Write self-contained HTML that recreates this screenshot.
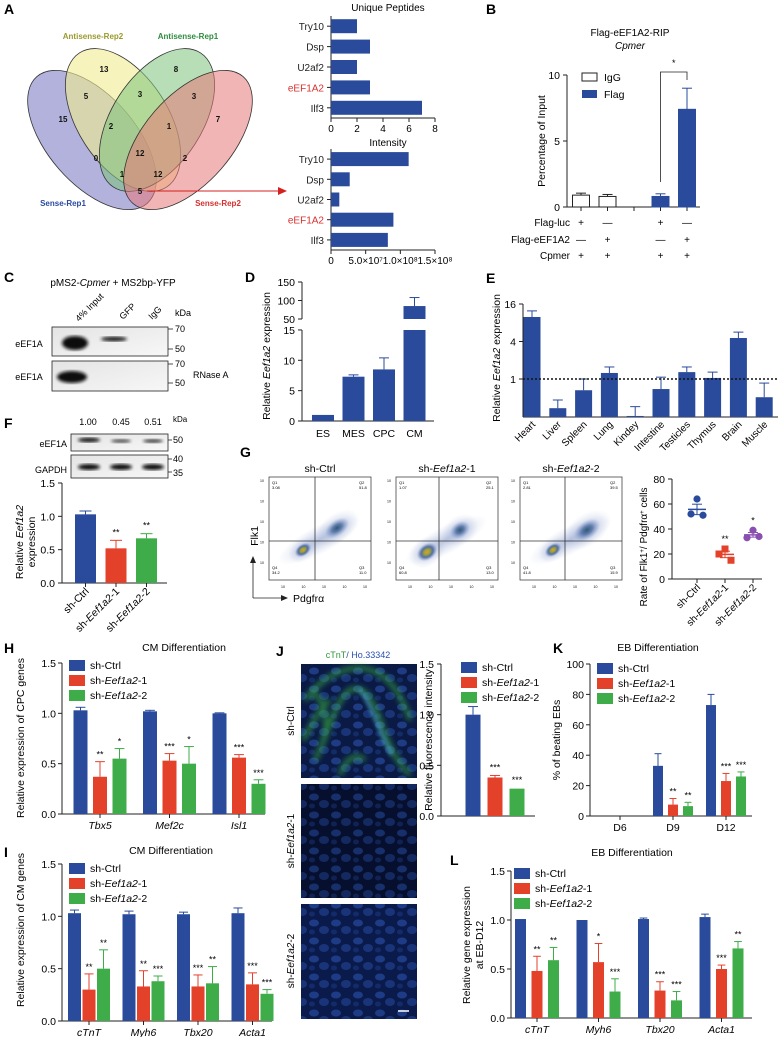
<!DOCTYPE html>
<html><head><meta charset="utf-8">
<style>
html,body{margin:0;padding:0;background:#fff;}
svg{display:block;font-family:"Liberation Sans",Arial,sans-serif;}
text{font-family:"Liberation Sans",Arial,sans-serif;}
</style></head>
<body>
<svg id="fig" width="779" height="1037" viewBox="0 0 779 1037" xmlns="http://www.w3.org/2000/svg">
<defs>
 <filter id="blur1"><feGaussianBlur stdDeviation="1.6"/></filter>
 <filter id="blur3"><feGaussianBlur stdDeviation="3"/></filter>
 <linearGradient id="blotbg" x1="0" y1="0" x2="1" y2="1"><stop offset="0" stop-color="#e4e4e4"/><stop offset="1" stop-color="#f7f7f7"/></linearGradient>
 <radialGradient id="clus"><stop offset="0" stop-color="#e0a020"/><stop offset="0.3" stop-color="#9aa040"/><stop offset="0.6" stop-color="#3a5a90" stop-opacity="0.8"/><stop offset="1" stop-color="#6a80c0" stop-opacity="0"/></radialGradient>
 <radialGradient id="clus2"><stop offset="0" stop-color="#2f5a70"/><stop offset="0.4" stop-color="#4a6aa0" stop-opacity="0.8"/><stop offset="1" stop-color="#8aa0d0" stop-opacity="0"/></radialGradient>
 <radialGradient id="halo"><stop offset="0" stop-color="#7088c0" stop-opacity="0.5"/><stop offset="1" stop-color="#a0b0d8" stop-opacity="0"/></radialGradient>
 <pattern id="cells" width="22" height="18" patternUnits="userSpaceOnUse">
  <ellipse cx="6" cy="5" rx="5" ry="3.5" fill="#2d55b5" opacity="0.55"/>
  <ellipse cx="16" cy="12" rx="5" ry="4" fill="#2448a0" opacity="0.55"/>
  <ellipse cx="4" cy="14" rx="3" ry="2.5" fill="#1c3c8a" opacity="0.5"/>
 </pattern>
</defs>

<g font-weight="bold" font-size="14">
 <text x="4" y="14">A</text>
 <text x="486" y="14">B</text>
 <text x="4" y="282">C</text>
 <text x="245" y="282">D</text>
 <text x="486" y="283">E</text>
 <text x="4" y="428">F</text>
 <text x="240" y="457">G</text>
 <text x="4" y="653">H</text>
 <text x="276" y="656">J</text>
 <text x="553" y="653">K</text>
 <text x="4" y="857">I</text>
 <text x="450" y="865">L</text>
</g>

<g id="venn" stroke="#333" stroke-width="0.8">
 <ellipse cx="92" cy="140" rx="84" ry="44" transform="rotate(49 92 140)" fill="#7e7ec6" fill-opacity="0.6"/>
 <ellipse cx="123" cy="120" rx="80" ry="45" transform="rotate(57 123 120)" fill="#f0ec90" fill-opacity="0.6"/>
 <ellipse cx="157" cy="120" rx="80" ry="45" transform="rotate(-57 157 120)" fill="#7cc27c" fill-opacity="0.55"/>
 <ellipse cx="188" cy="140" rx="84" ry="44" transform="rotate(-49 188 140)" fill="#e87878" fill-opacity="0.55"/>
</g>
<g font-size="8" font-weight="bold" text-anchor="middle" fill="#111">
 <text x="104" y="72">13</text><text x="176" y="72">8</text>
 <text x="86" y="99">5</text><text x="140" y="97">3</text><text x="194" y="99">3</text>
 <text x="63" y="122">15</text><text x="111" y="129">2</text><text x="169" y="129">1</text><text x="218" y="122">7</text>
 <text x="96" y="161">0</text><text x="140" y="156">12</text><text x="185" y="161">2</text>
 <text x="122" y="177">1</text><text x="158" y="177">12</text><text x="140" y="194">5</text>
</g>
<g font-size="8" font-weight="bold" text-anchor="middle">
 <text x="93" y="39" fill="#9a9a2c">Antisense-Rep2</text>
 <text x="188" y="39" fill="#2e8b3e">Antisense-Rep1</text>
 <text x="63" y="206" fill="#2a4aa0">Sense-Rep1</text>
 <text x="218" y="206" fill="#d63030">Sense-Rep2</text>
</g>
<g>
 <line x1="147" y1="191" x2="280" y2="191" stroke="#d62020" stroke-width="1"/>
 <polygon points="287,191 278,187 278,195" fill="#d62020"/>
</g>

<g>
 <text x="113" y="286" font-size="10" text-anchor="middle">pMS2-<tspan font-style="italic">Cpmer</tspan> + MS2bp-YFP</text>
 <text transform="translate(79,322) rotate(-45)" font-size="9">4% Input</text>
 <text transform="translate(123,320) rotate(-45)" font-size="9">GFP</text>
 <text transform="translate(152,320) rotate(-45)" font-size="9">IgG</text>
 <text x="175" y="316" font-size="9">kDa</text>
 <rect x="52" y="327" width="116" height="29" fill="url(#blotbg)" stroke="#222" stroke-width="0.8"/>
 <rect x="52" y="361" width="116" height="30" fill="url(#blotbg)" stroke="#222" stroke-width="0.8"/>
 <ellipse cx="75" cy="343" rx="13" ry="7" fill="#111" filter="url(#blur1)"/>
 <ellipse cx="114" cy="339" rx="13" ry="2.5" fill="#222" filter="url(#blur1)"/>
 <ellipse cx="72" cy="377" rx="15" ry="6" fill="#111" filter="url(#blur1)"/>
 <text x="29" y="347" font-size="9" text-anchor="middle">eEF1A</text>
 <text x="29" y="380" font-size="9" text-anchor="middle">eEF1A</text>
 <g stroke="#222" stroke-width="0.8">
  <line x1="168" y1="329" x2="173" y2="329"/><line x1="168" y1="349" x2="173" y2="349"/>
  <line x1="168" y1="364" x2="173" y2="364"/><line x1="168" y1="383" x2="173" y2="383"/>
 </g>
 <g font-size="9"><text x="175" y="332">70</text><text x="175" y="352">50</text><text x="175" y="367">70</text><text x="175" y="386">50</text><text x="193" y="378">RNase A</text></g>
</g>

<g font-size="9">
 <text x="88" y="425" text-anchor="middle">1.00</text><text x="121" y="425" text-anchor="middle">0.45</text><text x="153" y="425" text-anchor="middle">0.51</text>
 <text x="173" y="422" font-size="8">kDa</text>
 <rect x="71" y="434" width="97" height="17" fill="url(#blotbg)" stroke="#222" stroke-width="0.8"/>
 <rect x="71" y="455" width="97" height="23" fill="url(#blotbg)" stroke="#222" stroke-width="0.8"/>
 <ellipse cx="89" cy="440" rx="11" ry="2.5" fill="#222" filter="url(#blur1)"/>
 <ellipse cx="121" cy="441" rx="10" ry="2" fill="#555" filter="url(#blur1)"/>
 <ellipse cx="153" cy="441" rx="10" ry="2" fill="#444" filter="url(#blur1)"/>
 <ellipse cx="89" cy="467" rx="11" ry="3" fill="#111" filter="url(#blur1)"/>
 <ellipse cx="121" cy="467" rx="11" ry="3" fill="#111" filter="url(#blur1)"/>
 <ellipse cx="153" cy="467" rx="11" ry="3" fill="#111" filter="url(#blur1)"/>
 <text x="67" y="447" text-anchor="end">eEF1A</text><text x="67" y="473" text-anchor="end">GAPDH</text>
 <g stroke="#222" stroke-width="0.8"><line x1="168" y1="440" x2="172" y2="440"/><line x1="168" y1="459" x2="172" y2="459"/><line x1="168" y1="472" x2="172" y2="472"/></g>
 <text x="173" y="443">50</text><text x="173" y="462">40</text><text x="173" y="476">35</text>
</g>

<g>
 <text x="358" y="658" font-size="9" text-anchor="middle"><tspan fill="#2e9a3a">cTnT</tspan><tspan fill="#2a4fb0">/ Ho.33342</tspan></text>
 <rect x="301" y="664" width="116" height="114" fill="#0b1a45"/>
 <rect x="301" y="664" width="116" height="114" fill="url(#cells)"/>
 <g stroke="#3ec43e" fill="none" stroke-width="5" opacity="0.55" filter="url(#blur3)">
  <path d="M305 700 C320 680 340 668 360 668 C385 670 400 690 410 720"/>
  <path d="M315 760 C330 730 335 700 350 690 C365 684 372 700 380 720 C386 740 395 760 410 775"/>
  <path d="M303 740 C315 720 318 710 330 700"/>
  <path d="M340 775 C345 760 355 752 365 760"/>
  <path d="M310 690 C325 700 330 720 322 745"/>
 </g>
 <g stroke="#56b8e8" fill="none" stroke-width="5" opacity="0.4" filter="url(#blur1)"><path d="M360 690 C372 705 378 730 392 755"/></g>
 <rect x="301" y="784" width="116" height="114" fill="#06102e"/>
 <rect x="301" y="784" width="116" height="114" fill="url(#cells)" opacity="0.8"/>
 <rect x="301" y="904" width="116" height="115" fill="#0a1a4a"/>
 <rect x="301" y="904" width="116" height="115" fill="url(#cells)"/>
 <line x1="398" y1="1011" x2="409" y2="1011" stroke="#fff" stroke-width="1.5"/>
 <text transform="translate(294,721) rotate(-90)" font-size="10" text-anchor="middle">sh-Ctrl</text>
 <text transform="translate(294,841) rotate(-90)" font-size="10" text-anchor="middle">sh-<tspan font-style="italic">Eef1a2</tspan>-1</text>
 <text transform="translate(294,961) rotate(-90)" font-size="10" text-anchor="middle">sh-<tspan font-style="italic">Eef1a2</tspan>-2</text>
</g>

<g id="charts"></g>

<script>
const aCats = ["Try10","Dsp","U2af2","eEF1A2","Ilf3"];
const aPeptides = [2,3,2,3,7];
const aIntensity = [1.12e8,0.27e8,0.12e8,0.9e8,0.82e8];

const bLabels = ["IgG","IgG","Flag","Flag"];
const bVals = [0.9,0.8,0.8,7.4];
const bErr = [0.15,0.15,0.2,1.6];
const bRowLuc = ["+","\u2014","+","\u2014"];
const bRowEef = ["\u2014","+","\u2014","+"];
const bRowCpmer = ["+","+","+","+"];

const dCats = ["ES","MES","CPC","CM"];
const dVals = [1.0,7.3,8.5,85];
const dErr = [0,0.3,1.9,23];

const eCats = ["Heart","Liver","Spleen","Lung","Kindey","Intestine","Testicles","Thymus","Brain","Muscle"];
const eVals = [9.9,0.34,0.66,1.25,0.255,0.69,1.29,1.04,4.55,0.51];
const eErrTop = [12.4,0.46,1.0,1.56,0.36,1.07,1.56,1.29,5.66,0.86];
const eTicks = [1,4,16];

const fCats = ["sh-Ctrl","sh-Eef1a2-1","sh-Eef1a2-2"];
const fVals = [1.03,0.52,0.67];
const fErr = [0.05,0.12,0.07];
const fStars = ["","**","**"];

const gCats = ["sh-Ctrl","sh-Eef1a2-1","sh-Eef1a2-2"];
const gPoints = [[64,52,51],[24,20,15],[39,33,34]];
const gStars = ["","**","*"];
const gQuadCtrl = ["3.08","51.8","11.0","34.2"];
const gQuadSh1 = ["1.07","25.1","13.0","60.8"];
const gQuadSh2 = ["2.81","39.5","15.9","41.8"];

const hCats = ["Tbx5","Mef2c","Isl1"];
const hCtrl = [1.03,1.02,1.0];
const hCtrlErr = [0.03,0.01,0.005];
const hSh1 = [0.37,0.53,0.56];
const hSh1Err = [0.15,0.07,0.03];
const hSh2 = [0.55,0.50,0.30];
const hSh2Err = [0.10,0.17,0.04];
const hStars1 = ["**","***","***"];
const hStars2 = ["*","*","***"];

const iCats = ["cTnT","Myh6","Tbx20","Acta1"];
const iCtrl = [1.03,1.02,1.02,1.03];
const iCtrlErr = [0.03,0.03,0.02,0.05];
const iSh1 = [0.30,0.33,0.33,0.35];
const iSh1Err = [0.15,0.15,0.11,0.11];
const iSh2 = [0.50,0.38,0.36,0.26];
const iSh2Err = [0.18,0.05,0.16,0.04];
const iStars1 = ["**","**","***","***"];
const iStars2 = ["**","***","**","***"];

const jCats = ["sh-Ctrl","sh-Eef1a2-1","sh-Eef1a2-2"];
const jVals = [1.0,0.38,0.27];
const jErr = [0.08,0.02,0.005];
const jStars = ["","***","***"];

const kCats = ["D6","D9","D12"];
const kCtrl = [0,33,73];
const kCtrlErr = [0,8,7];
const kSh1 = [0,7.5,23];
const kSh1Err = [0,4,5];
const kSh2 = [0,6.5,26];
const kSh2Err = [0,2.5,3];
const kStars1 = ["","**","***"];
const kStars2 = ["","**","***"];

const lCats = ["cTnT","Myh6","Tbx20","Acta1"];
const lCtrl = [1.01,1.0,1.01,1.03];
const lCtrlErr = [0.0,0.0,0.01,0.03];
const lSh1 = [0.48,0.57,0.28,0.50];
const lSh1Err = [0.15,0.19,0.09,0.04];
const lSh2 = [0.59,0.27,0.18,0.71];
const lSh2Err = [0.13,0.13,0.09,0.07];
const lStars1 = ["**","*","***","***"];
const lStars2 = ["**","***","***","**"];

const NS = "http://www.w3.org/2000/svg";
const root = document.getElementById("charts");
const BLUE = "#2a4b9c", RED = "#e4412b", GREEN = "#3eac48";
function mk(tag, attrs, name, parent) {
  const e = document.createElementNS(NS, tag);
  for (const k in attrs) e.setAttribute(k, attrs[k]);
  
  
  (parent || root).appendChild(e);
  return e;
}
function T(x, y, s, size, name, parent, extra) {
  const a = {x: x, y: y, "font-size": size};
  if (extra) for (const k in extra) a[k] = extra[k];
  const t = mk("text", a, name, parent);
  t.textContent = s;
  return t;
}
// parts: array of [string, style] where style "i" italic, "sup" superscript
function rich(t, parts) {
  t.textContent = "";
  parts.forEach(p => {
    if (!p[1]) { t.appendChild(document.createTextNode(p[0])); return; }
    const ts = document.createElementNS(NS, "tspan");
    if (p[1] === "i") ts.setAttribute("font-style", "italic");
    if (p[1] === "sup") { ts.setAttribute("baseline-shift", "super"); ts.setAttribute("font-size", "6"); }
    ts.textContent = p[0];
    t.appendChild(ts);
  });
  return t;
}
function shLabel(x, y, s, size, name, parent, extra) {
  const t = T(x, y, "", size, name, parent, extra);
  const m = s.match(/^(sh-)(Eef1a2)(-\d)$/);
  if (m) rich(t, [[m[1]], [m[2], "i"], [m[3]]]);
  else t.textContent = s;
  return t;
}
function line(x1, y1, x2, y2, name, parent, col, w) {
  return mk("line", {x1: x1, y1: y1, x2: x2, y2: y2, stroke: col || "#222", "stroke-width": w || 1}, name, parent);
}
function rotLabel(x, y, s, size, name, parent) {
  return shLabel(0, 0, s, size, name, parent, {"text-anchor": "middle", transform: "translate(" + x + "," + y + ") rotate(-90)"});
}
function legend(x, y, step, parent, prefix) {
  const items = [["sh-Ctrl", BLUE], ["sh-Eef1a2-1", RED], ["sh-Eef1a2-2", GREEN]];
  items.forEach((it, i) => {
    const g = mk("g", {}, prefix + "-legend-entry-" + i, parent);
    mk("rect", {x: x, y: y + i * step - 5, width: 16, height: 11, fill: it[1]}, prefix + "-legend-swatch", g);
    shLabel(x + 21, y + i * step + 4, it[0], 10.5, prefix + "-legend-label", g);
  });
}
function errBar(x, yTop, yBase, half, col, name, parent) {
  line(x, yBase, x, yTop, name, parent, col, 1);
  line(x - half, yTop, x + half, yTop, name + "-cap", parent, col, 1);
}
function grouped(o) {
  const g = mk("g", {}, o.name, root);
  const y = v => o.yBot - v / o.vmax * (o.yBot - o.yTop);
  line(o.xa, o.yTop, o.xa, o.yBot, o.name + "-y-axis", g);
  line(o.xa, o.yBot, o.xr, o.yBot, o.name + "-x-axis", g);
  o.ticks.forEach(t => {
    line(o.xa - 4, y(t), o.xa, y(t), o.name + "-y-tick", g);
    T(o.xa - 6, y(t) + 4, o.fmt(t), 10.5, o.name + "-y-tick-label", g, {"text-anchor": "end"});
  });
  const cols = [BLUE, RED, GREEN];
  o.cats.forEach((c, i) => {
    const cx = o.cx0 + i * o.cstep;
    line(cx, o.yBot, cx, o.yBot + 4, o.name + "-x-tick", g);
    T(cx, o.yBot + 15, c, 10.5, o.name + "-x-label", g, {"text-anchor": "middle", "font-style": o.italic ? "italic" : "normal"});
    o.series.forEach((s, j) => {
      const bx = cx + (j - 1) * o.gap;
      const v = s.v[i], e = s.e[i];
      if (v > 0) {
        mk("rect", {x: bx - o.bw / 2, y: y(v), width: o.bw, height: o.yBot - y(v), fill: cols[j]}, o.name + "-bar-" + c + "-" + j, g);
        if (e > 0) errBar(bx, y(v + e), y(v), o.bw * 0.35, cols[j], o.name + "-error", g);
      }
      if (s.st && s.st[i]) T(bx, y(v + e) - 4, s.st[i], 9, o.name + "-significance", g, {"text-anchor": "middle"});
    });
  });
  return g;
}

// A
(function () {
  function hbar(name, title, ty, yTop, yBot, vals, vmax, ticks, tickLabels) {
    const g = mk("g", {}, name, root);
    const x = v => 331 + v / vmax * 104;
    T(388, ty, title, 10, name + "-title", g, {"text-anchor": "middle"});
    line(331, yTop, 331, yBot, name + "-y-axis", g);
    line(331, yBot, 435, yBot, name + "-x-axis", g);
    const step = (yBot - yTop) / aCats.length;
    aCats.forEach((c, i) => {
      const cy = yTop + step * (i + 0.5);
      mk("rect", {x: 331, y: cy - 7, width: x(vals[i]) - 331, height: 14, fill: BLUE}, name + "-bar-" + c, g);
      line(327, cy, 331, cy, name + "-tick", g);
      T(324, cy + 4, c, 10, name + "-category-label", g, {"text-anchor": "end", fill: c === "eEF1A2" ? "#d83030" : "#222"});
    });
    ticks.forEach((t, k) => {
      line(x(t), yBot, x(t), yBot + 4, name + "-x-tick", g);
      T(x(t), yBot + 14, tickLabels[k], 10, name + "-x-tick-label", g, {"text-anchor": "middle"});
    });
  }
  hbar("a-unique-peptides", "Unique Peptides", 11, 16, 118, aPeptides, 8, [0, 2, 4, 6, 8], ["0", "2", "4", "6", "8"]);
  hbar("a-intensity", "Intensity", 146, 149, 250, aIntensity, 1.5e8, [0, 0.5e8, 1e8, 1.5e8], ["0", "5.0\u00d710\u2077", "1.0\u00d710\u2078", "1.5\u00d710\u2078"]);
})();

// B
(function () {
  const g = mk("g", {}, "panel-b-chart", root);
  const y = v => 207 - v * 13.2;
  const slot = [0, 1, 3, 4];
  const xs = i => 581 + slot[i] * 26.5;
  T(630, 36, "Flag-eEF1A2-RIP", 10, "b-title", g, {"text-anchor": "middle"});
  T(630, 49, "Cpmer", 10, "b-subtitle", g, {"text-anchor": "middle", "font-style": "italic"});
  line(567, 75, 567, 207, "b-y-axis", g);
  line(567, 207, 700, 207, "b-x-axis", g);
  [0, 5, 10].forEach(t => {
    line(563, y(t), 567, y(t), "b-y-tick", g);
    T(560, y(t) + 4, String(t), 10.5, "b-y-tick-label", g, {"text-anchor": "end"});
  });
  rotLabel(545, 141, "Percentage of Input", 10.5, "b-y-axis-title", g);
  [0, 1, 2, 3, 4].forEach(s => line(581 + s * 26.5, 207, 581 + s * 26.5, 211, "b-x-tick", g));
  bVals.forEach((v, i) => {
    const filled = bLabels[i] === "Flag";
    mk("rect", {x: xs(i) - 8.5, y: y(v), width: 17, height: 207 - y(v), fill: filled ? BLUE : "#fff", stroke: filled ? BLUE : "#222", "stroke-width": 1}, "b-bar-" + bLabels[i] + "-" + i, g);
    errBar(xs(i), y(v + bErr[i]), y(v), 5, filled ? BLUE : "#222", "b-error", g);
    T(xs(i), 226, bRowLuc[i], 10, "b-flag-luc-mark", g, {"text-anchor": "middle"});
    T(xs(i), 243, bRowEef[i], 10, "b-flag-eef1a2-mark", g, {"text-anchor": "middle"});
    T(xs(i), 259, bRowCpmer[i], 10, "b-cpmer-mark", g, {"text-anchor": "middle"});
  });
  T(570, 226, "Flag-luc", 10, "b-row-flag-luc", g, {"text-anchor": "end"});
  T(570, 243, "Flag-eEF1A2", 10, "b-row-flag-eef1a2", g, {"text-anchor": "end"});
  T(570, 259, "Cpmer", 10, "b-row-cpmer", g, {"text-anchor": "end"});
  mk("rect", {x: 582, y: 73, width: 15, height: 8, fill: "#fff", stroke: "#222"}, "b-legend-igg-swatch", g);
  T(604, 81, "IgG", 10.5, "b-legend-igg", g);
  mk("rect", {x: 582, y: 90, width: 15, height: 8, fill: BLUE}, "b-legend-flag-swatch", g);
  T(604, 98, "Flag", 10.5, "b-legend-flag", g);
  const bx1 = xs(2), bx2 = xs(3);
  mk("polyline", {points: bx1 + ",182 " + bx1 + ",72 " + bx2 + ",72 " + bx2 + ",80", fill: "none", stroke: "#222", "stroke-width": 0.8}, "b-significance-bracket", g);
  T((bx1 + bx2) / 2, 66, "*", 9, "b-significance", g, {"text-anchor": "middle"});
})();

// D
(function () {
  const g = mk("g", {}, "panel-d-chart", root);
  const yl = v => 421 - v * 6.07;
  const yu = v => 319 - (v - 50) * 0.37;
  line(302, 330, 302, 421, "d-y-axis-lower", g);
  line(302, 282, 302, 319, "d-y-axis-upper", g);
  line(302, 421, 434, 421, "d-x-axis", g);
  [0, 5, 10, 15].forEach(t => {
    line(298, yl(t), 302, yl(t), "d-y-tick", g);
    T(295, yl(t) + 4, String(t), 10.5, "d-y-tick-label", g, {"text-anchor": "end"});
  });
  [50, 100, 150].forEach(t => {
    line(298, yu(t), 302, yu(t), "d-y-tick", g);
    T(295, yu(t) + 4, String(t), 10.5, "d-y-tick-label", g, {"text-anchor": "end"});
  });
  rich(rotLabel(270, 356, "", 10.5, "d-y-axis-title", g), [["Relative "], ["Eef1a2", "i"], [" expression"]]);
  dCats.forEach((c, i) => {
    const cx = 323 + i * 30.5;
    T(cx, 437, c, 10.5, "d-x-label", g, {"text-anchor": "middle"});
    const v = dVals[i];
    if (v <= 15) {
      mk("rect", {x: cx - 11, y: yl(v), width: 22, height: 421 - yl(v), fill: BLUE}, "d-bar-" + c, g);
      if (dErr[i] > 0) errBar(cx, yl(v + dErr[i]), yl(v), 5, BLUE, "d-error", g);
    } else {
      mk("rect", {x: cx - 11, y: 330, width: 22, height: 91, fill: BLUE}, "d-bar-" + c + "-lower", g);
      mk("rect", {x: cx - 11, y: yu(v), width: 22, height: 319 - yu(v), fill: BLUE}, "d-bar-" + c + "-upper", g);
      errBar(cx, yu(v + dErr[i]), yu(v), 5, BLUE, "d-error", g);
    }
  });
})();

// E
(function () {
  const g = mk("g", {}, "panel-e-chart", root);
  const y = v => 379 - Math.log2(v) * 18.75;
  line(523, 304, 523, 417, "e-y-axis", g);
  line(523, 417, 778, 417, "e-x-axis", g);
  eTicks.forEach(t => {
    line(519, y(t), 523, y(t), "e-y-tick", g);
    T(516, y(t) + 4, String(t), 10.5, "e-y-tick-label", g, {"text-anchor": "end"});
  });
  rich(rotLabel(500, 358, "", 10.5, "e-y-axis-title", g), [["Relative "], ["Eef1a2", "i"], [" expression"]]);
  eCats.forEach((c, i) => {
    const cx = 532 + i * 25.8;
    mk("rect", {x: cx - 8.5, y: y(eVals[i]), width: 17, height: 417 - y(eVals[i]), fill: BLUE}, "e-bar-" + c, g);
    errBar(cx, y(eErrTop[i]), y(eVals[i]), 5, BLUE, "e-error", g);
    T(cx + 4, 425, c, 10, "e-x-label", g, {"text-anchor": "end", transform: "rotate(-45 " + (cx + 4) + " 425)"});
  });
  line(523, y(1), 778, y(1), "e-reference-line", g, "#111", 1.5).setAttribute("stroke-dasharray", "2,2");
})();

// F bar
(function () {
  const g = mk("g", {}, "panel-f-chart", root);
  const y = v => 583 - v / 1.5 * 100;
  line(62, 483, 62, 583, "f-y-axis", g);
  line(62, 583, 167, 583, "f-x-axis", g);
  [0, 0.5, 1.0, 1.5].forEach(t => {
    line(58, y(t), 62, y(t), "f-y-tick", g);
    T(55, y(t) + 4, t.toFixed(1), 10.5, "f-y-tick-label", g, {"text-anchor": "end"});
  });
  rich(rotLabel(23, 542, "", 10.5, "f-y-axis-title", g), [["Relative "], ["Eef1a2", "i"]]);
  rotLabel(35, 542, "expression", 10.5, "f-y-axis-title-2", g);
  const cols = [BLUE, RED, GREEN];
  fCats.forEach((c, i) => {
    const cx = 85.5 + i * 30.5;
    mk("rect", {x: cx - 10.5, y: y(fVals[i]), width: 21, height: 583 - y(fVals[i]), fill: cols[i]}, "f-bar-" + c, g);
    errBar(cx, y(fVals[i] + fErr[i]), y(fVals[i]), 6, cols[i], "f-error", g);
    if (fStars[i]) T(cx, y(fVals[i] + fErr[i]) - 5, fStars[i], 9, "f-significance", g, {"text-anchor": "middle"});
    line(cx, 583, cx, 587, "f-x-tick", g);
    shLabel(cx + 4, 592, c, 10.5, "f-x-label", g, {"text-anchor": "end", transform: "rotate(-45 " + (cx + 4) + " 592)"});
  });
})();

// G flow plots
(function () {
  const plots = [["sh-Ctrl", 269, 315, gQuadCtrl, [[34, 73, 9, 6], [68, 51, 14, 8]]],
                 ["sh-Eef1a2-1", 396, 439, gQuadSh1, [[31, 75, 11, 8], [64, 53, 11, 8]]],
                 ["sh-Eef1a2-2", 520, 565, gQuadSh2, [[33, 73, 9, 6], [67, 53, 15, 9]]]];
  plots.forEach((p, k) => {
    const g = mk("g", {}, "g-flow-plot-" + k, root);
    const x0 = p[1], w = 102;
    shLabel(x0 + w / 2, 472, p[0], 10.5, "g-flow-title", g, {"text-anchor": "middle"});
    mk("rect", {x: x0, y: 477, width: w, height: 103, fill: "#fff", stroke: "#444", "stroke-width": 0.8}, "g-flow-frame", g);
    mk("ellipse", {cx: x0 + 50, cy: 540, rx: 46, ry: 14, fill: "url(#halo)", transform: "rotate(-28 " + (x0 + 50) + " 540)"}, "g-flow-halo", g);
    p[4].forEach((c, j) => {
      const cx = x0 + c[0], cy = 477 + c[1];
      mk("ellipse", {cx: cx, cy: cy, rx: c[2] * 1.8, ry: c[3] * 1.8, fill: "url(#halo)", transform: "rotate(-35 " + cx + " " + cy + ")"}, "g-flow-halo", g);
      mk("ellipse", {cx: cx, cy: cy, rx: c[2], ry: c[3], fill: j === 0 ? "url(#clus)" : "url(#clus2)", transform: "rotate(-35 " + cx + " " + cy + ")"}, "g-flow-cluster", g);
    });
    line(p[2], 477, p[2], 580, "g-gate-vertical", g, "#333", 0.8);
    line(x0, 541, x0 + w, 541, "g-gate-horizontal", g, "#333", 0.8);
    T(x0 + 3, 484, "Q1", 4, "g-q1", g); T(x0 + 3, 489, p[3][0], 4, "g-q1-value", g);
    T(x0 + w - 12, 484, "Q2", 4, "g-q2", g); T(x0 + w - 12, 489, p[3][1], 4, "g-q2-value", g);
    T(x0 + w - 12, 569, "Q3", 4, "g-q3", g); T(x0 + w - 12, 574, p[3][2], 4, "g-q3-value", g);
    T(x0 + 3, 569, "Q4", 4, "g-q4", g); T(x0 + 3, 574, p[3][3], 4, "g-q4-value", g);
    for (let t = 0; t < 5; t++) {
      T(x0 - 9, 482 + t * 20.5, "10", 3.5, "g-y-tick-label", g);
      T(x0 + 12 + t * 20.5, 588, "10", 3.5, "g-x-tick-label", g);
    }
  });
  const a = mk("g", {}, "g-axis-arrows", root);
  line(253, 598, 253, 562, "g-flk1-arrow", a, "#222", 0.8);
  mk("polygon", {points: "253,556 250,563 256,563", fill: "#222"}, "g-flk1-arrowhead", a);
  line(253, 598, 282, 598, "g-pdgfra-arrow", a, "#222", 0.8);
  mk("polygon", {points: "288,598 281,595 281,601", fill: "#222"}, "g-pdgfra-arrowhead", a);
  rotLabel(258, 536, "Flk1", 10.5, "g-flk1-label", a);
  T(293, 602, "Pdgfr\u03b1", 10.5, "g-pdgfra-label", a);
})();

// G dot plot
(function () {
  const g = mk("g", {}, "panel-g-dotplot", root);
  const y = v => 579 - v * 1.25;
  line(672, 479, 672, 579, "g-dot-y-axis", g);
  line(672, 579, 762, 579, "g-dot-x-axis", g);
  [0, 20, 40, 60, 80].forEach(t => {
    line(668, y(t), 672, y(t), "g-dot-y-tick", g);
    T(665, y(t) + 4, String(t), 10.5, "g-dot-y-tick-label", g, {"text-anchor": "end"});
  });
  rich(rotLabel(647, 547, "", 10, "g-dot-y-axis-title", g), [["Rate of Flk1"], ["+", "sup"], ["/ Pdgfr\u03b1"], ["+", "sup"], [" cells"]]);
  const cols = [BLUE, RED, "#8a4fb0"];
  const offs = [0, -6, 6];
  gCats.forEach((c, i) => {
    const cx = 697 + i * 28;
    const pts = gPoints[i];
    const m = pts.reduce((s, v) => s + v, 0) / pts.length;
    const sd = Math.sqrt(pts.reduce((s, v) => s + (v - m) * (v - m), 0) / (pts.length - 1));
    const se = sd / Math.sqrt(pts.length);
    pts.forEach((v, j) => {
      if (i === 1) mk("rect", {x: cx + offs[j] - 3.5, y: y(v) - 3.5, width: 7, height: 7, fill: cols[i]}, "g-dot-point", g);
      else mk("circle", {cx: cx + offs[j], cy: y(v), r: 3.6, fill: cols[i]}, "g-dot-point", g);
    });
    line(cx - 9, y(m), cx + 9, y(m), "g-dot-mean", g, cols[i], 1.5);
    line(cx - 5, y(m + se), cx + 5, y(m + se), "g-dot-sem", g, cols[i], 1);
    line(cx - 5, y(m - se), cx + 5, y(m - se), "g-dot-sem", g, cols[i], 1);
    line(cx, y(m - se), cx, y(m + se), "g-dot-sem-line", g, cols[i], 1);
    if (gStars[i]) T(cx, y(Math.max(...pts)) - 7, gStars[i], 9, "g-dot-significance", g, {"text-anchor": "middle"});
    line(cx, 579, cx, 583, "g-dot-x-tick", g);
    shLabel(cx + 4, 588, c, 10, "g-dot-x-label", g, {"text-anchor": "end", transform: "rotate(-45 " + (cx + 4) + " 588)"});
  });
})();

// H
(function () {
  const g = grouped({name: "panel-h-chart", xa: 62, xr: 265, yTop: 663, yBot: 814, vmax: 1.5, ticks: [0, 0.5, 1.0, 1.5], fmt: t => t.toFixed(1),
    cats: hCats, cx0: 100, cstep: 69.5, gap: 19.5, bw: 14, italic: true,
    series: [{v: hCtrl, e: hCtrlErr}, {v: hSh1, e: hSh1Err, st: hStars1}, {v: hSh2, e: hSh2Err, st: hStars2}]});
  T(184, 651, "CM Differentiation", 10.5, "h-title", g, {"text-anchor": "middle"});
  rotLabel(24, 738, "Relative  expression of CPC genes", 10.5, "h-y-axis-title", g);
  legend(69, 665, 15, g, "h");
})();

// I
(function () {
  const g = grouped({name: "panel-i-chart", xa: 62, xr: 272, yTop: 864, yBot: 1021, vmax: 1.5, ticks: [0, 0.5, 1.0, 1.5], fmt: t => t.toFixed(1),
    cats: iCats, cx0: 89, cstep: 54.5, gap: 14.5, bw: 13, italic: true,
    series: [{v: iCtrl, e: iCtrlErr}, {v: iSh1, e: iSh1Err, st: iStars1}, {v: iSh2, e: iSh2Err, st: iStars2}]});
  T(171, 854, "CM Differentiation", 10.5, "i-title", g, {"text-anchor": "middle"});
  rotLabel(24, 930, "Relative expression of CM genes", 10.5, "i-y-axis-title", g);
  legend(69, 868, 15, g, "i");
})();

// J bar
(function () {
  const g = mk("g", {}, "panel-j-chart", root);
  const y = v => 816 - v / 1.5 * 152;
  line(441, 664, 441, 816, "j-y-axis", g);
  line(441, 816, 535, 816, "j-x-axis", g);
  [0, 0.5, 1.0, 1.5].forEach(t => {
    line(437, y(t), 441, y(t), "j-y-tick", g);
    T(434, y(t) + 4, t.toFixed(1), 10.5, "j-y-tick-label", g, {"text-anchor": "end"});
  });
  rotLabel(432, 740, "Relative fluorescence intensity", 10.5, "j-y-axis-title", g);
  const cols = [BLUE, RED, GREEN];
  jCats.forEach((c, i) => {
    const cx = 473 + i * 22;
    mk("rect", {x: cx - 7.5, y: y(jVals[i]), width: 15, height: 816 - y(jVals[i]), fill: cols[i]}, "j-bar-" + c, g);
    if (jErr[i] > 0.01) errBar(cx, y(jVals[i] + jErr[i]), y(jVals[i]), 5, cols[i], "j-error", g);
    if (jStars[i]) T(cx, y(jVals[i] + jErr[i]) - 5, jStars[i], 9, "j-significance", g, {"text-anchor": "middle"});
  });
  legend(461, 667, 15, g, "j");
})();

// K
(function () {
  const g = grouped({name: "panel-k-chart", xa: 590, xr: 752, yTop: 664, yBot: 816, vmax: 100, ticks: [0, 20, 40, 60, 80, 100], fmt: t => String(t),
    cats: kCats, cx0: 620, cstep: 53, gap: 15, bw: 10, italic: false,
    series: [{v: kCtrl, e: kCtrlErr}, {v: kSh1, e: kSh1Err, st: kStars1}, {v: kSh2, e: kSh2Err, st: kStars2}]});
  T(658, 651, "EB Differentiation", 10.5, "k-title", g, {"text-anchor": "middle"});
  rotLabel(560, 740, "% of beating EBs", 10.5, "k-y-axis-title", g);
  legend(597, 668, 15, g, "k");
})();

// L
(function () {
  const g = grouped({name: "panel-l-chart", xa: 511, xr: 752, yTop: 871, yBot: 1018, vmax: 1.5, ticks: [0, 0.5, 1.0, 1.5], fmt: t => t.toFixed(1),
    cats: lCats, cx0: 537, cstep: 61.5, gap: 16.5, bw: 11, italic: true,
    series: [{v: lCtrl, e: lCtrlErr}, {v: lSh1, e: lSh1Err, st: lStars1}, {v: lSh2, e: lSh2Err, st: lStars2}]});
  T(632, 856, "EB Differentiation", 10.5, "l-title", g, {"text-anchor": "middle"});
  rotLabel(470, 945, "Relative gene expression", 10.5, "l-y-axis-title", g);
  rotLabel(483, 945, "at EB-D12", 10.5, "l-y-axis-title-2", g);
  legend(514, 873, 15, g, "l");
})();
</script>
</svg>
</body></html>
